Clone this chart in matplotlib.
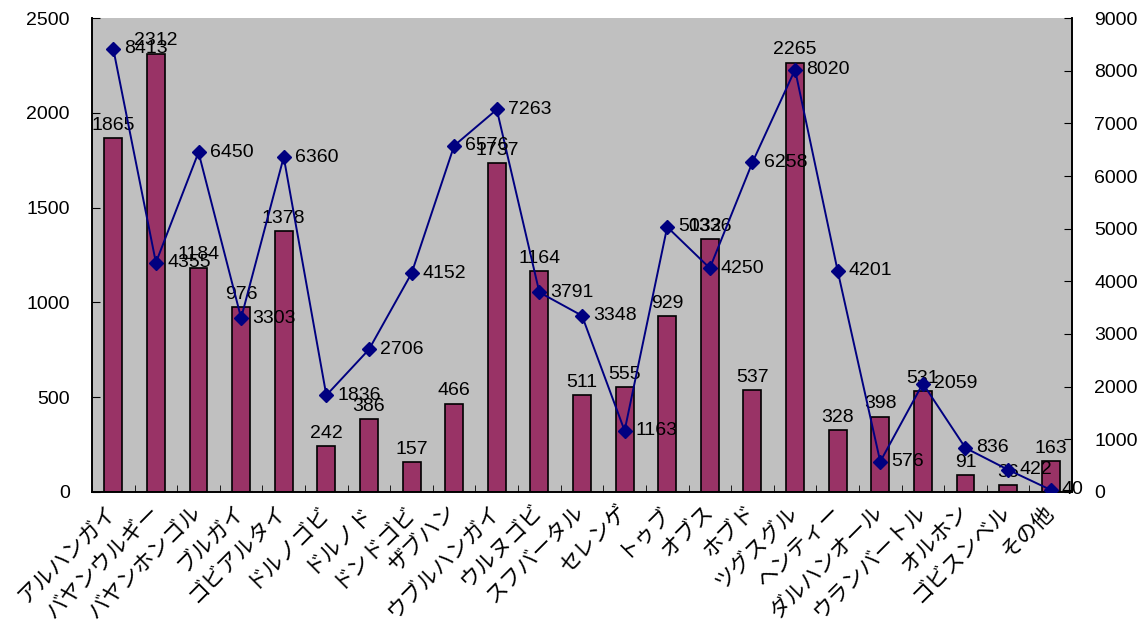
import numpy as np
import matplotlib
matplotlib.use("Agg")
from matplotlib import pyplot as plt
from matplotlib.ticker import FixedLocator, NullFormatter

plt.rcParams['font.family'] = ['Liberation Sans', 'Noto Sans CJK JP', 'DejaVu Sans']

# aimag names, bar series (left axis) and line series (right axis)
regions = ['アルハンガイ', 'バヤンウルギー', 'バヤンホンゴル', 'ブルガイ', 'ゴビアルタイ',
           'ドルノゴビ', 'ドルノド', 'ドンドゴビ', 'ザブハン', 'ウブルハンガイ',
           'ウルヌゴビ', 'スフバータル', 'セレンゲ', 'トゥブ', 'オブス', 'ホブド',
           'ツグスグル', 'ヘンティー', 'ダルハンオール', 'ウランバートル', 'オルホン',
           'ゴビスンベル', 'その他']
bar_vals = [1865, 2312, 1184, 976, 1378, 242, 386, 157, 466, 1737, 1164, 511,
            555, 929, 1336, 537, 2265, 328, 398, 531, 91, 36, 163]
line_vals = [8413, 4355, 6450, 3303, 6360, 1836, 2706, 4152, 6576, 7263, 3791, 3348,
             1163, 5032, 4250, 6258, 8020, 4201, 576, 2059, 836, 422, 40]

left_ticks = [0, 500, 1000, 1500, 2000, 2500]
right_ticks = [0, 1000, 2000, 3000, 4000, 5000, 6000, 7000, 8000, 9000]

fig = plt.figure(figsize=(11.47, 6.28), dpi=100)
ax = fig.add_axes([0.0802, 0.2166, 0.8544, 0.7547])
ax.set_facecolor('#C0C0C0')

x = np.arange(len(regions))
ax.bar(x, bar_vals, width=0.42, color='#993366', edgecolor='black', linewidth=1.2, zorder=2)
ax.set_xlim(-0.5, len(regions) - 0.5)
ax.set_ylim(left_ticks[0], left_ticks[-1])
ax.set_yticks(left_ticks)

for xi, v in zip(x, bar_vals):
    ax.annotate(str(v), (xi, v), xytext=(0, 3), textcoords='offset points',
                ha='center', va='bottom', fontsize=14, zorder=5)

ax2 = ax.twinx()
ax2.patch.set_visible(False)
ax2.plot(x, line_vals, color='#000080', linewidth=1.4, marker='D', markersize=7.5, zorder=3)
ax2.set_ylim(right_ticks[0], right_ticks[-1])
ax2.set_yticks(right_ticks)

for xi, v in zip(x, line_vals):
    ax2.annotate(str(v), (xi, v), xytext=(8, 0), textcoords='offset points',
                 ha='left', va='center', fontsize=14, zorder=6)

# category labels at bar centres, small tick marks between categories
ax.set_xticks(x)
ax.set_xticklabels(regions, rotation=45, ha='right', va='center', rotation_mode='anchor', fontsize=15.5)
ax.tick_params(axis='x', length=0, pad=12)
ax.xaxis.set_minor_locator(FixedLocator(np.arange(-0.5, len(regions), 1.0)))
ax.xaxis.set_minor_formatter(NullFormatter())
ax.tick_params(axis='x', which='minor', direction='in', length=5, color='black')

ax.tick_params(axis='y', direction='in', length=6, labelsize=14, pad=16)
ax2.tick_params(axis='y', direction='in', length=6, labelsize=14, pad=16)

for a in (ax, ax2):
    a.spines['top'].set_visible(False)
    for s in ('left', 'right', 'bottom'):
        a.spines[s].set_linewidth(1.2)

fig.savefig('out.png', dpi=100)
